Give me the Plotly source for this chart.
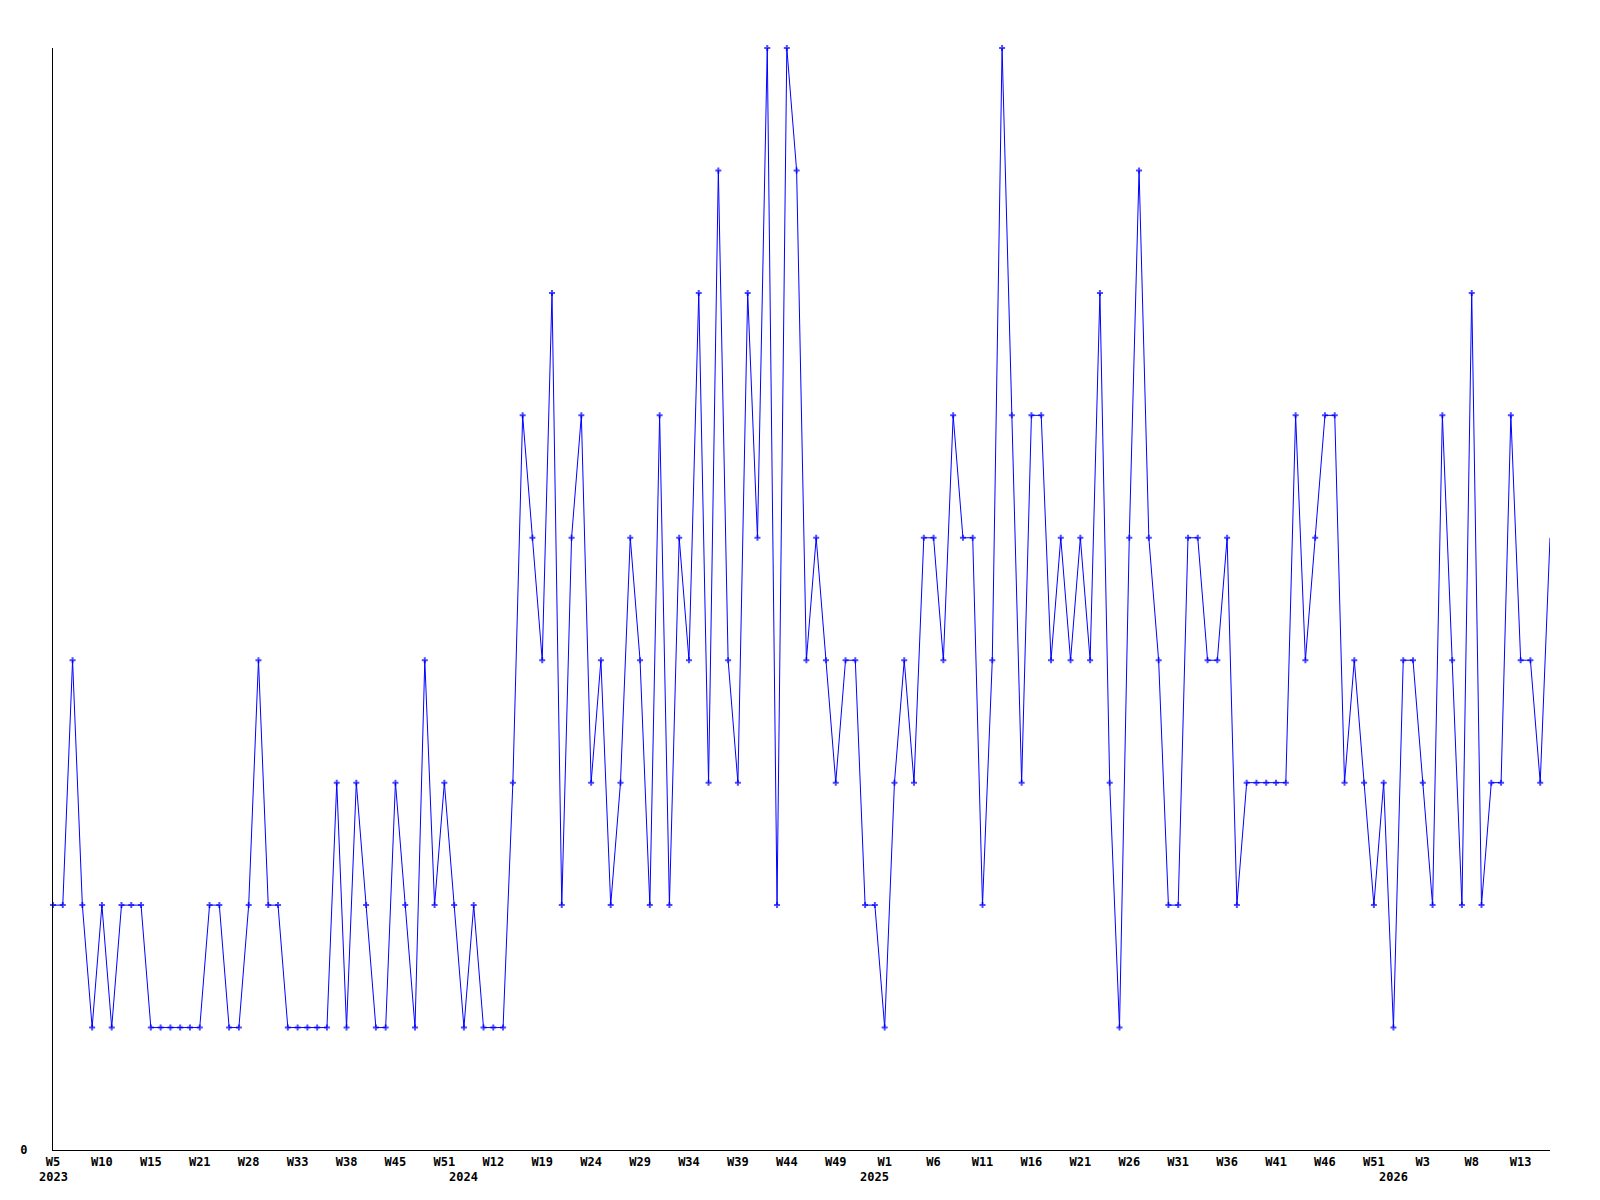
"""Weekly count line chart, W5 2023 to W16 2026."""

import plotly.graph_objects as go

# weekly values, one per point (categorical index on x)
values = [
    2, 2, 4, 2, 1, 2, 1, 2, 2, 2,
    1, 1, 1, 1, 1, 1, 2, 2, 1, 1,
    2, 4, 2, 2, 1, 1, 1, 1, 1, 3,
    1, 3, 2, 1, 1, 3, 2, 1, 4, 2,
    3, 2, 1, 2, 1, 1, 1, 3, 6, 5,
    4, 7, 2, 5, 6, 3, 4, 2, 3, 5,
    4, 2, 6, 2, 5, 4, 7, 3, 8, 4,
    3, 7, 5, 9, 2, 9, 8, 4, 5, 4,
    3, 4, 4, 2, 2, 1, 3, 4, 3, 5,
    5, 4, 6, 5, 5, 2, 4, 9, 6, 3,
    6, 6, 4, 5, 4, 5, 4, 7, 3, 1,
    5, 8, 5, 4, 2, 2, 5, 5, 4, 4,
    5, 2, 3, 3, 3, 3, 3, 6, 4, 5,
    6, 6, 3, 4, 3, 2, 3, 1, 4, 4,
    3, 2, 6, 4, 2, 7, 2, 3, 3, 6,
    4, 4, 3, 5,
]

# a week label is shown under every 5th point
week_labels = [
    "W5", "W10", "W15", "W21", "W28", "W33", "W38", "W45", "W51", "W12",
    "W19", "W24", "W29", "W34", "W39", "W44", "W49", "W1", "W6", "W11",
    "W16", "W21", "W26", "W31", "W36", "W41", "W46", "W51", "W3", "W8",
    "W13",
]
label_step = 5

# year labels sit under the first point of each year
year_labels = ["2023", "2024", "2025", "2026"]
year_index = [0, 42, 84, 137]

x = list(range(len(values)))
# the last (current) week is drawn without a marker
marker_sizes = [5] * (len(values) - 1) + [0]

font = dict(family="DejaVu Sans Mono", size=12, color="black", weight="bold")

fig = go.Figure()
fig.add_trace(
    go.Scatter(
        x=x,
        y=values,
        mode="lines+markers",
        line=dict(color="#0000ff", width=1),
        marker=dict(symbol="cross", size=marker_sizes, color="#0000ff",
                    line=dict(width=0)),
        cliponaxis=False,
        showlegend=False,
    )
)

for label, idx in zip(year_labels, year_index):
    fig.add_annotation(
        x=idx, y=0, xref="x", yref="paper",
        text=label, showarrow=False,
        yanchor="top", yshift=-18,
        font=font,
    )

fig.update_xaxes(
    range=[0, len(values) - 1],
    tickmode="array",
    tickvals=x[::label_step],
    ticktext=week_labels,
    tickangle=0,
    tickfont=font,
    ticks="",
    ticklabelstandoff=1,
    showline=True, linecolor="black", linewidth=1,
    showgrid=False, zeroline=False,
)
fig.update_yaxes(
    range=[0, max(values)],
    tickmode="array",
    tickvals=[0],
    ticktext=["0"],
    tickfont=font,
    ticks="",
    ticklabelstandoff=22,
    showline=True, linecolor="black", linewidth=1,
    showgrid=False, zeroline=False,
)

# the page body adds 8px around the figure
fig.update_layout(
    width=1584,
    height=1184,
    plot_bgcolor="white",
    paper_bgcolor="white",
    margin=dict(l=41, r=42, t=40, b=42),
)

fig.write_html("out.html")
